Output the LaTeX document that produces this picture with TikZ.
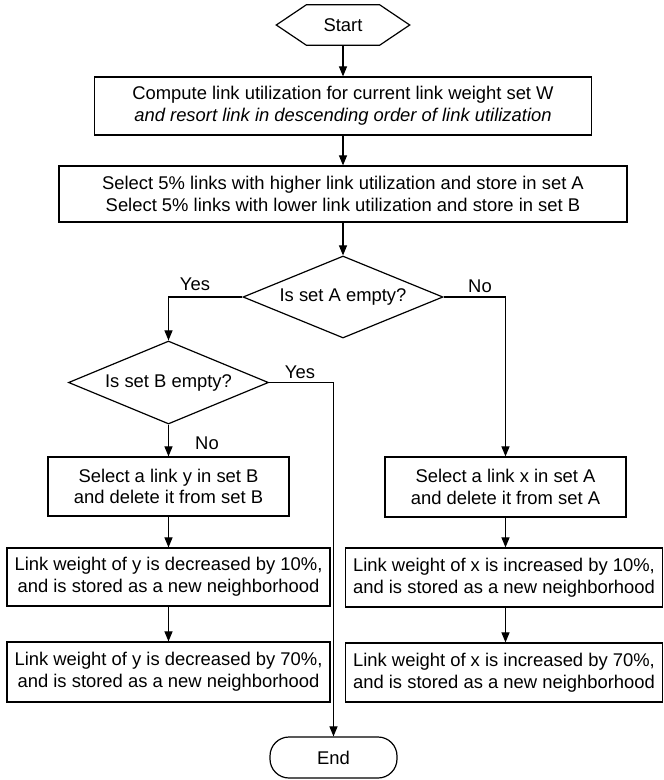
\documentclass[tikz,border=0pt]{standalone}
\usepackage{fontspec}
\setmainfont{Liberation Sans}
\usetikzlibrary{arrows.meta,shapes.geometric}
\begin{document}
\begin{tikzpicture}[x=1pt,y=-1pt,
  every node/.style={font=\fontsize{18.4}{21.7}\selectfont},
  box/.style={draw,line width=1.2pt,rectangle,inner sep=0pt,align=center},
  dec/.style={draw,line width=1.2pt,diamond,inner sep=0pt,aspect=2.4},
  lab/.style={inner sep=0pt},
  flow/.style={line width=1.1pt,-{Triangle[length=10pt,width=8pt]}},
  link/.style={line width=1.1pt}]
\useasboundingbox (0,0) rectangle (664,780);
% terminals
\node[inner sep=0pt,minimum width=133pt,minimum height=40pt] (start) at (343,25) {Start};
\draw[line width=1.2pt] (start.west) -- ([xshift=30pt]start.north west) -- ([xshift=-30pt]start.north east)
  -- (start.east) -- ([xshift=-30pt]start.south east) -- ([xshift=30pt]start.south west) -- cycle;
\node[box,rounded corners=19pt,minimum width=127pt,minimum height=41pt] (end) at (333.5,757.5) {End};
% process boxes
\node[box,minimum width=497pt,minimum height=58pt] (comp) at (343,106)
  {Compute link utilization for current link weight set W\\{\itshape and resort link in descending order of link utilization}};
\node[box,minimum width=568pt,minimum height=56pt] (sel) at (343,194)
  {Select 5\% links with higher link utilization and store in set A\\Select 5\% links with lower link utilization and store in set B};
\node[dec,minimum width=200pt,minimum height=82pt] (isA) at (343,297) {Is set A empty?};
\node[dec,minimum width=200pt,minimum height=83pt] (isB) at (168.5,382.5) {Is set B empty?};
\node[box,minimum width=241pt,minimum height=59pt] (selY) at (168.5,486.5) {Select a link y in set B\\and delete it from set B};
\node[box,minimum width=241pt,minimum height=60pt] (selX) at (505.5,487) {Select a link x in set A\\and delete it from set A};
\node[box,minimum width=323pt,minimum height=58pt] (y10) at (168.5,577) {Link weight of y is decreased by 10\%,\\and is stored as a new neighborhood};
\node[box,minimum width=317pt,minimum height=59pt] (x10) at (504,577.5) {Link weight of x is increased by 10\%,\\and is stored as a new neighborhood};
\node[box,minimum width=323pt,minimum height=60pt] (y70) at (168.5,672) {Link weight of y is decreased by 70\%,\\and is stored as a new neighborhood};
\node[box,minimum width=317pt,minimum height=59pt] (x70) at (504,672.5) {Link weight of x is increased by 70\%,\\and is stored as a new neighborhood};
% connectors
\draw[flow] (start.south) -- (comp.north);
\draw[flow] (comp.south) -- (sel.north);
\draw[flow] (sel.south) -- (isA.north);
\draw[flow] (isA.west) -| (isB.north);
\draw[flow] (isA.east) -| (selX.north);
\draw[flow] (isB.south) -- (selY.north);
\draw[flow] (isB.east) -| (end.north);
\draw[flow] (selY.south) -- (y10.north);
\draw[flow] (y10.south) -- (y70.north);
\draw[flow] (selX.south) -- (selX.south |- x10.north);
\draw[flow] (selX.south |- x10.south) -- (selX.south |- x70.north);
% labels
\node[lab] (yesA) at (195,284) {Yes};
\node[lab] (noA) at (480,286) {No};
\node[lab] (yesB) at (300,372) {Yes};
\node[lab] (noB) at (207,443) {No};
\end{tikzpicture}
\end{document}
